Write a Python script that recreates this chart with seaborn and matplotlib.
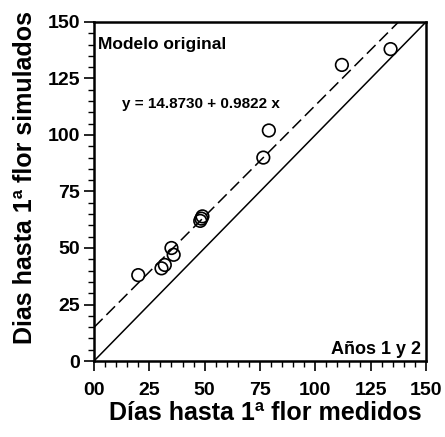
import numpy as np
import pandas as pd
import matplotlib
matplotlib.use("Agg")
import matplotlib.pyplot as plt
from matplotlib.ticker import MultipleLocator, FixedLocator, FixedFormatter
import seaborn as sns

# Observed vs. simulated days to first flower
medidos = [20, 30.5, 32, 35, 36, 48, 48.5, 49, 76.5, 79, 112, 134]
simulados = [38, 41, 42.5, 50, 47, 62, 63, 64, 90, 102, 131, 138]

# Fitted regression
intercepto = 14.8730
pendiente = 0.9822

tick_values = [0, 25, 50, 75, 100, 125, 150]
x_tick_labels = ["00", "25", "50", "75", "100", "125", "150"]
y_tick_labels = ["0", "25", "50", "75", "100", "125", "150"]

sns.set_theme(style="white")
plt.rcParams["font.family"] = ["Liberation Sans", "DejaVu Sans"]
plt.rcParams["text.color"] = "black"
plt.rcParams["axes.labelcolor"] = "black"
plt.rcParams["xtick.color"] = "black"
plt.rcParams["ytick.color"] = "black"

df = pd.DataFrame({"medidos": medidos, "simulados": simulados})

fig = plt.figure(figsize=(4.45, 4.37), dpi=100)
ax = fig.add_axes([0.2112, 0.1739, 0.7461, 0.7758])

# 1:1 line
ax.plot([0, 150], [0, 150], color="black", lw=1.1, zorder=1)
# regression line, clipped where it leaves the frame
x_end = (150 - intercepto) / pendiente
xr = np.array([0, x_end])
ax.plot(xr, intercepto + pendiente * xr, color="black", lw=1.1,
        dashes=(8, 3.5), zorder=1)

sns.scatterplot(data=df, x="medidos", y="simulados", ax=ax, s=82,
                facecolor="none", edgecolor="black", linewidth=1.2,
                zorder=3, legend=False)

ax.set_xlim(0, 150)
ax.set_ylim(0, 150)
ax.xaxis.set_major_locator(FixedLocator(tick_values))
ax.xaxis.set_major_formatter(FixedFormatter(x_tick_labels))
ax.yaxis.set_major_locator(FixedLocator(tick_values))
ax.yaxis.set_major_formatter(FixedFormatter(y_tick_labels))
ax.xaxis.set_minor_locator(MultipleLocator(5))
ax.yaxis.set_minor_locator(MultipleLocator(5))

ax.tick_params(which="major", direction="out", length=7, width=1.2,
               labelsize=14, pad=3, colors="black", bottom=True, left=True)
ax.tick_params(axis="x", which="major", pad=8)
ax.tick_params(which="minor", direction="out", length=4, width=1.0,
               bottom=True, left=True, colors="black")
for lbl in ax.get_xticklabels() + ax.get_yticklabels():
    lbl.set_fontweight("bold")

for sp in ax.spines.values():
    sp.set_visible(True)
    sp.set_color("black")
    sp.set_linewidth(1.8)

ax.set_xlabel("Días hasta 1ª flor medidos", fontsize=18, fontweight="bold",
              color="black")
ax.set_ylabel("Dias hasta 1ª flor simulados", fontsize=18, fontweight="bold",
              color="black")
ax.xaxis.set_label_coords(0.515, -0.118)
ax.yaxis.set_label_coords(-0.173, 0.54)

ax.text(0.012, 0.955, "Modelo original", transform=ax.transAxes,
        fontsize=12.5, fontweight="bold", ha="left", va="top")
ax.text(0.085, 0.757, "y = 14.8730 + 0.9822 x", transform=ax.transAxes,
        fontsize=11, fontweight="bold", ha="left", va="center")
ax.text(0.985, 0.008, "Años 1 y 2", transform=ax.transAxes,
        fontsize=13, fontweight="bold", ha="right", va="bottom")

fig.savefig("out.png", dpi=100)
